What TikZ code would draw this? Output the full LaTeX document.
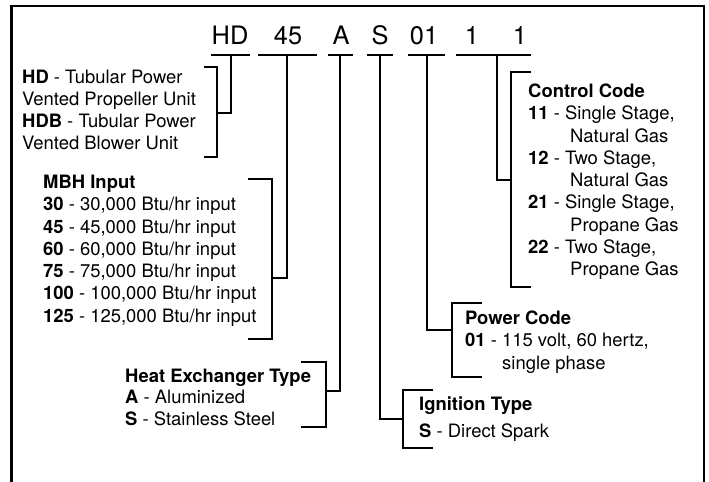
\documentclass[tikz,border=0pt]{standalone}
\usepackage{fontspec}
\setmainfont{TeX Gyre Heros}
\begin{document}
\begin{tikzpicture}[x=1bp, y=-1bp, line join=miter]

\tikzset{
  code/.style={font=\fontsize{25.5}{26}\selectfont, anchor=base, inner sep=0pt},
  desc/.style={font=\fontsize{18.5}{22.3}\selectfont, align=left, anchor=base west, inner sep=0pt},
  uline/.style={line width=2.2bp},
  brk/.style={line width=2.2bp},
  frame/.style={line width=2.6bp}
}

\useasboundingbox (0,0) rectangle (709,482);

% Frame, open at the bottom
\draw[frame] (11.5,482) |- (704,6) -- (704,482);

% Model number
\node[code] (hd)  at (230,45) {HD};
\node[code] (mbh) at (288,45) {45};
\node[code] (hx)  at (341,45) {A};
\node[code] (ign) at (380,45) {S};
\node[code] (pwr) at (424,45) {01};
\node[code] (ctla) at (472,45) {1};
\node[code] (ctlb) at (520,45) {1};

\draw[uline] (211,55) -- (250,55);
\draw[uline] (258,55) -- (317,55);
\draw[uline] (328,55) -- (353,55);
\draw[uline] (367,55) -- (393,55);
\draw[uline] (408,55) -- (445,55);
\draw[uline] (456,55) -- (531,55);

% Unit type (node base = last line)
\coordinate (hd-s) at (231,55);
\coordinate (hd-j) at (217,113);
\node[desc] (hdtxt) at (22,150) {\textbf{HD} - Tubular Power\\Vented Propeller Unit\\\textbf{HDB} - Tubular Power\\Vented Blower Unit};
\draw[brk] (204,67) -| (217,157) -- (204,157);
\draw[brk] (hd-s) |- (hd-j);

% MBH input
\coordinate (mbh-s) at (287,55);
\coordinate (mbh-j) at (272,278);
\node[desc] (mbhtxt) at (43,322) {\textbf{MBH Input}\\\textbf{30} - 30,000 Btu/hr input\\\textbf{45} - 45,000 Btu/hr input\\\textbf{60} - 60,000 Btu/hr input\\\textbf{75} - 75,000 Btu/hr input\\\textbf{100} - 100,000 Btu/hr input\\\textbf{125} - 125,000 Btu/hr input};
\draw[brk] (248,179) -| (272,339) -- (248,339);
\draw[brk] (mbh-s) |- (mbh-j);

% Heat exchanger type
\coordinate (hx-s) at (340,55);
\coordinate (hx-j) at (326,391);
\node[desc] (hxtxt) at (125,425) {\textbf{Heat Exchanger Type}\\[-0.8pt]\textbf{A} - Aluminized\\[-0.8pt]\textbf{S} - Stainless Steel};
\draw[brk] (301,362) -| (326,427) -- (301,427);
\draw[brk] (hx-s) |- (hx-j);

% Ignition type
\coordinate (ign-s) at (380,55);
\coordinate (ign-j) at (403,419);
\node[desc] (igntxt) at (419,437) {\textbf{Ignition Type}\\[4.7pt]\textbf{S} - Direct Spark};
\draw[brk] (433,390) -| (403,448) -- (433,448);
\draw[brk] (ign-s) |- (ign-j);

% Power code
\coordinate (pwr-s) at (427,55);
\coordinate (pwr-j) at (452,330);
\node[desc] (pwrtxt) at (465,369) {\textbf{Power Code}\\\textbf{01} - 115 volt, 60 hertz,\\\hspace*{37bp}single phase};
\draw[brk] (482,303) -| (452,377) -- (482,377);
\draw[brk] (pwr-s) |- (pwr-j);

% Control code
\coordinate (ctl-s) at (497,55);
\coordinate (ctl-j) at (511,180);
\node[desc] (ctltxt) at (528,275.5) {\textbf{Control Code}\\\textbf{11} - Single Stage,\\\hspace*{42bp}Natural Gas\\\textbf{12} - Two Stage,\\\hspace*{42bp}Natural Gas\\\textbf{21} - Single Stage,\\\hspace*{42bp}Propane Gas\\\textbf{22} - Two Stage,\\\hspace*{42bp}Propane Gas};
\draw[brk] (531,72) -| (511,287) -- (531,287);
\draw[brk] (ctl-s) |- (ctl-j);

\end{tikzpicture}
\end{document}
